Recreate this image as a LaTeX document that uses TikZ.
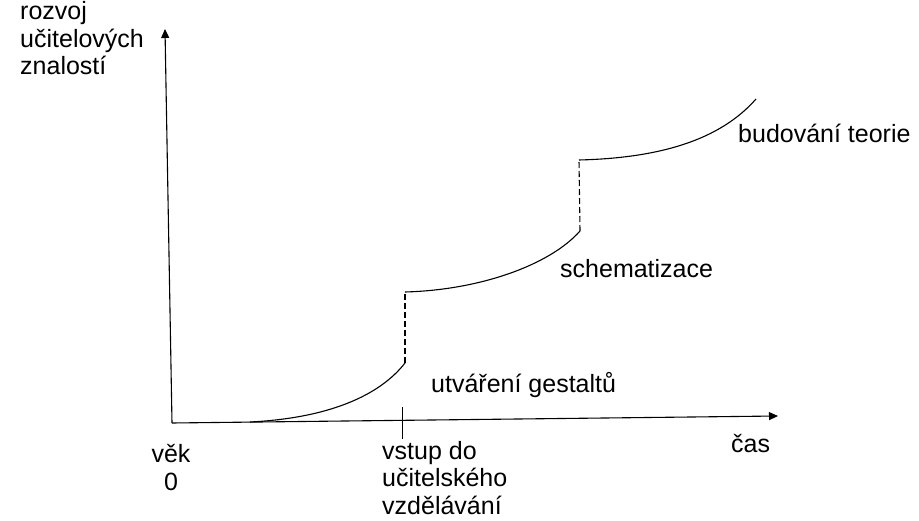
\documentclass[tikz,border=0pt]{standalone}
\usepackage{fontspec}
\setmainfont{Liberation Sans}
\usetikzlibrary{arrows.meta}
\begin{document}
\begin{tikzpicture}[x=1pt,y=-1pt,
  lbl/.style={inner sep=0pt,anchor=base west,font=\fontsize{25}{27.5}\selectfont,align=left},
  curve/.style={line width=1.1pt},
  jump/.style={line width=1.1pt,dash pattern=on 6pt off 3pt},
  axis/.style={line width=1.1pt,-{Triangle[length=9pt,width=8pt]}}]
\useasboundingbox (0,0) rectangle (919,521);
\coordinate (O) at (172,423);
\coordinate (ytip) at (165,29);
\coordinate (xtip) at (778,416);
\draw[axis] (O) -- (ytip);
\draw[axis] (O) -- (xtip);
\coordinate (c0) at (250,422);
\coordinate (c1) at (405,363);
\coordinate (c2) at (405,292);
\coordinate (c3) at (580,231);
\coordinate (c4) at (579,160);
\coordinate (c5) at (756,99);
\draw[curve] (c0) .. controls (330,418) and (380,395) .. (c1);
\draw[jump] (c1) -- (c2);
\draw[curve] (c2) .. controls (480,290) and (550,265) .. (c3);
\draw[jump] (c3) -- (c4);
\draw[curve] (c4) .. controls (660,158) and (720,140) .. (c5);
\coordinate (t1) at (402,407);
\coordinate (t2) at (402,439);
\draw[line width=0.9pt] (t1) -- (t2);
\node[lbl] (ylab) at (20,75) {rozvoj\\učitelových\\znalostí};
\node[lbl] (bt) at (738,143) {budování teorie};
\node[lbl] (sch) at (560,278) {schematizace};
\node[lbl] (utv) at (431,393) {utváření gestaltů};
\node[lbl] (cas) at (731,453) {čas};
\node[lbl,anchor=base,align=center] (vek) at (171,490) {věk\\0};
\node[lbl] (vstup) at (382,514) {vstup do\\učitelského\\vzdělávání};
\end{tikzpicture}
\end{document}
